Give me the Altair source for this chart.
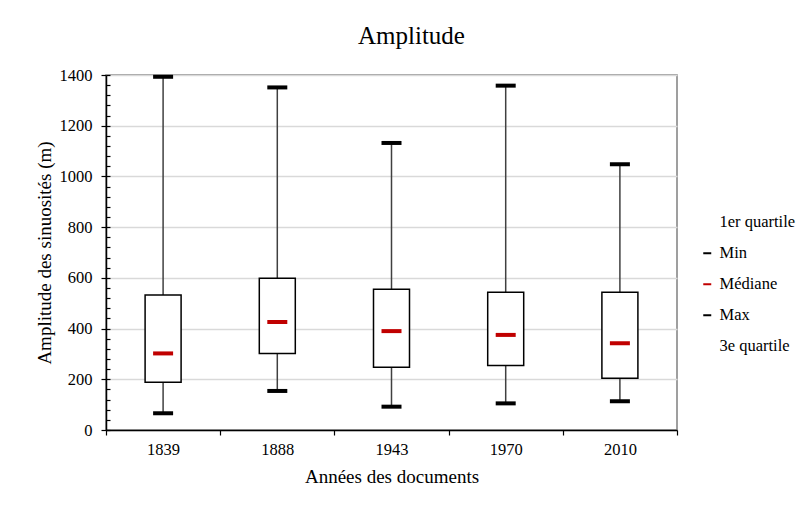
import altair as alt
import pandas as pd

# ---- data ----
years = ["1839", "1888", "1943", "1970", "2010"]
mins = [66, 154, 92, 105, 113]
q1s = [188, 302, 247, 254, 204]
medians = [302, 426, 390, 375, 342]
q3s = [532, 598, 555, 543, 543]
maxs = [1393, 1351, 1132, 1358, 1048]

major_ticks = list(range(0, 1401, 200))
minor_ticks = list(range(0, 1401, 40))

legend_labels = ["1er quartile", "Min", "Médiane", "Max", "3e quartile"]
legend_colors = ["transparent", "#000000", "#c00000", "#000000", "transparent"]

FONT = "Liberation Serif, Times New Roman, serif"

box_df = pd.DataFrame({"year": years, "min": mins, "q1": q1s,
                       "median": medians, "q3": q3s, "max": maxs})

tick_rows = []
for i, y in enumerate(years):
    tick_rows.append({"year": y, "stat": "Min", "value": mins[i]})
    tick_rows.append({"year": y, "stat": "Médiane", "value": medians[i]})
    tick_rows.append({"year": y, "stat": "Max", "value": maxs[i]})
tick_df = pd.DataFrame(tick_rows)

x_scale = alt.Scale(domain=years, paddingInner=0, paddingOuter=0)
x_axis = alt.Axis(
    title="Années des documents", titleFont=FONT, titleFontSize=19,
    titleFontWeight="normal", titleColor="black", titleY=52,
    titleBaseline="alphabetic",
    labelFont=FONT, labelFontSize=16.5, labelColor="black", labelAngle=0,
    labelPadding=6, tickBand="extent", tickSize=5, tickColor="black",
    tickWidth=1.2, domainColor="black", domainWidth=1.5, grid=False,
)

y_scale = alt.Scale(domain=[0, 1400], nice=False, zero=True)
y_axis = alt.Axis(
    orient="left",
    title="Amplitude des sinuosités (m)", titleFont=FONT, titleFontSize=19,
    titleFontWeight="normal", titleColor="black", titleAngle=270,
    titleX=-56, titleY=177.5, titleAlign="center", titleBaseline="alphabetic",
    values=major_ticks, format="d",
    labelFont=FONT, labelFontSize=16.5, labelColor="black", labelPadding=9,
    tickSize=5, tickColor="black", tickWidth=1.2,
    domainColor="black", domainWidth=1.5,
    grid=True, gridColor="#d9d9d9", gridWidth=1.5,
)

# minor ticks drawn inside the plot: an extra left axis shifted 4px inward
y_minor_axis = alt.Axis(
    orient="left",
    title=None, values=minor_ticks, labels=False, domain=False, grid=False,
    tickSize=4, tickColor="black", tickWidth=1.2, offset=-4,
)

whisker = alt.Chart(box_df).mark_rule(color="#404040", strokeWidth=1.5).encode(
    x=alt.X("year:N", scale=x_scale, axis=x_axis),
    y=alt.Y("min:Q", scale=y_scale, axis=y_axis),
    y2="max:Q",
)

box = alt.Chart(box_df).mark_bar(
    fill="white", stroke="black", strokeWidth=1.5, size=36
).encode(
    x=alt.X("year:N", scale=x_scale, axis=x_axis),
    y=alt.Y("q1:Q", scale=y_scale, axis=y_axis),
    y2="q3:Q",
)

ticks = alt.Chart(tick_df).mark_tick(size=20, thickness=4, opacity=1).encode(
    x=alt.X("year:N", scale=x_scale, axis=x_axis),
    y=alt.Y("value:Q", scale=y_scale, axis=y_axis),
    color=alt.Color(
        "stat:N",
        scale=alt.Scale(domain=legend_labels, range=legend_colors),
        legend=alt.Legend(
            title=None, orient="none", legendX=593, legendY=139,
            symbolType="M-1,-0.25H1V0.25H-1Z", symbolSize=64,
            symbolStrokeWidth=0, symbolOpacity=1,
            labelFont=FONT, labelFontSize=16.5, labelColor="black",
            labelOffset=4, rowPadding=14, padding=0, labelLimit=200,
        ),
    ),
)

minor = alt.Chart(box_df).mark_rule(opacity=0).encode(
    x=alt.X("year:N", scale=x_scale, axis=x_axis),
    y=alt.Y("min:Q", scale=y_scale, axis=y_minor_axis),
)

main = alt.layer(whisker, box, ticks)

chart = alt.layer(main, minor).resolve_axis(y="independent").properties(
    width=571,
    height=355,
    autosize=alt.AutoSizeParams(type="none"),
    padding={"left": 98, "top": 67, "right": 120, "bottom": 69},
    title=alt.TitleParams(
        "Amplitude", font=FONT, fontSize=25, fontWeight="normal",
        color="black", anchor="middle", frame="group", dx=20, offset=18,
    ),
).configure(
    background="white", font=FONT
).configure_view(
    stroke="#808080", strokeWidth=1.5
).configure_axis(
    labelFont=FONT, titleFont=FONT
).configure_legend(
    labelFont=FONT
)

chart.save("out.html", embed_options={"renderer": "svg", "actions": False})
